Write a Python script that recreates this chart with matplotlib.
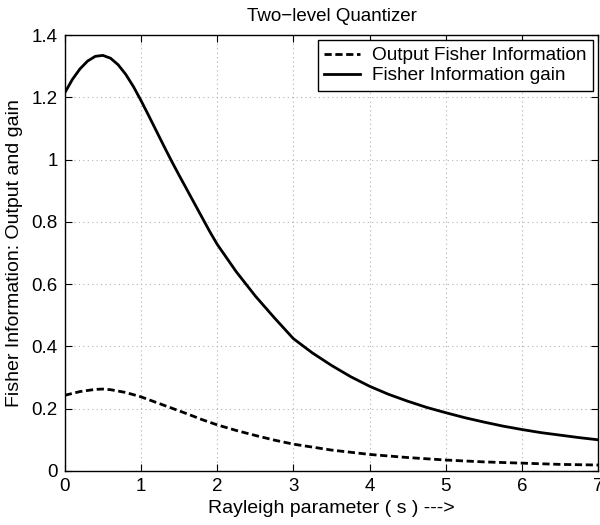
import numpy as np
import matplotlib
matplotlib.use("Agg")
import matplotlib.pyplot as plt

# values
s_gain = [0.0, 0.1, 0.2, 0.3, 0.4, 0.5, 0.6, 0.7, 0.8, 0.9, 1.0, 1.1, 1.2, 1.3, 1.4,
          1.5, 1.6, 1.7, 1.8, 1.9, 2.0, 2.25, 2.5, 2.75, 3.0, 3.25, 3.5, 3.75, 4.0,
          4.25, 4.5, 4.75, 5.0, 5.25, 5.5, 5.75, 6.0, 6.25, 6.5, 6.75, 7.0]
gain = [1.215, 1.258, 1.292, 1.317, 1.332, 1.335, 1.326, 1.305, 1.274, 1.235, 1.190,
        1.142, 1.093, 1.044, 0.996, 0.950, 0.905, 0.860, 0.815, 0.770, 0.728, 0.640,
        0.562, 0.492, 0.425, 0.379, 0.339, 0.303, 0.272, 0.246, 0.224, 0.204, 0.187,
        0.171, 0.157, 0.144, 0.133, 0.123, 0.115, 0.107, 0.100]

s_out = [0.0, 0.2, 0.4, 0.5, 0.6, 0.8, 1.0, 1.2, 1.4, 1.6, 1.8, 2.0, 2.25, 2.5, 2.75,
         3.0, 3.5, 4.0, 4.5, 5.0, 5.5, 6.0, 6.5, 7.0]
out_fi = [0.243, 0.255, 0.262, 0.263, 0.261, 0.252, 0.238, 0.220, 0.202, 0.184, 0.165,
          0.148, 0.130, 0.114, 0.099, 0.086, 0.067, 0.053, 0.043, 0.035, 0.029, 0.025,
          0.021, 0.019]

xticks = [0, 1, 2, 3, 4, 5, 6, 7]
yticks = [0, 0.2, 0.4, 0.6, 0.8, 1, 1.2, 1.4]
yticklabels = ['0', '0.2', '0.4', '0.6', '0.8', '1', '1.2', '1.4']

plt.rcParams['font.family'] = ['Liberation Sans', 'DejaVu Sans']

fig = plt.figure(figsize=(6, 5.25), dpi=100)
ax = fig.add_axes([0.108, 0.103, 0.889, 0.83])

ax.plot(s_out, out_fi, color='k', lw=2, ls=(0, (2.6, 1.3)), label='Output Fisher Information')
ax.plot(s_gain, gain, color='k', lw=2, label='Fisher Information gain')

ax.set_xlim(0, 7)
ax.set_ylim(0, 1.4)
ax.set_xticks(xticks)
ax.set_yticks(yticks)
ax.set_yticklabels(yticklabels)
ax.tick_params(direction='in', top=True, right=True, labelsize=13.5, length=5, pad=5)
ax.grid(True, color='#b0b0b0', ls=(0, (1, 3)), lw=0.8)
for sp in ax.spines.values():
    sp.set_linewidth(1.0)

ax.set_title('Two\u2212level Quantizer', fontsize=13.5, pad=10)
ax.set_xlabel('Rayleigh parameter ( s ) --->', fontsize=14, labelpad=4)
ax.set_ylabel('Fisher Information: Output and gain', fontsize=14, labelpad=6)

leg = ax.legend(loc='upper right', fontsize=13.7, fancybox=False, framealpha=1,
                edgecolor='k', handlelength=1.9, handletextpad=0.6, borderpad=0.35,
                labelspacing=0.15, borderaxespad=0.27)
leg.get_frame().set_linewidth(1.0)

fig.savefig('out.png', dpi=100)
